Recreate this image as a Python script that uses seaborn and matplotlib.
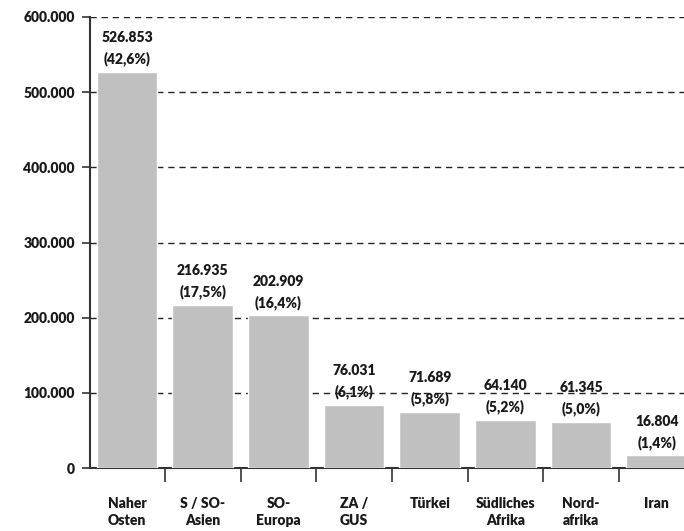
import matplotlib
matplotlib.use("Agg")
import matplotlib.pyplot as plt
import seaborn as sns
import pandas as pd

categories = ["Naher\nOsten", "S / SO-\nAsien", "SO-\nEuropa", "ZA /\nGUS", "Türkei",
              "Südliches\nAfrika", "Nord-\nafrika", "Iran"]
# bar heights as drawn in the picture
bar_heights = [526853, 216935, 202909, 84000, 74500, 64140, 61345, 16804]
# printed labels
label_values = ["526.853", "216.935", "202.909", "76.031", "71.689", "64.140", "61.345", "16.804"]
label_shares = ["(42,6%)", "(17,5%)", "(16,4%)", "(6,1%)", "(5,8%)", "(5,2%)", "(5,0%)", "(1,4%)"]
y_ticks = [0, 100000, 200000, 300000, 400000, 500000, 600000]
y_tick_labels = ["0", "100.000", "200.000", "300.000", "400.000", "500.000", "600.000"]

sns.set_style("white")
plt.rcParams["font.family"] = ["Lato", "DejaVu Sans"]
W = "heavy"

df = pd.DataFrame({"cat": categories, "val": bar_heights})

fig = plt.figure(figsize=(6.84, 5.31), dpi=100)
ax = fig.add_axes([90 / 684, 63 / 531, 1 - 90 / 684, (468 - 17) / 531])

sns.barplot(data=df, x="cat", y="val", color="#c0c0c0", saturation=1, width=0.8, ax=ax, zorder=3)

ax.set_ylim(0, 600000)
ax.set_xlim(-0.49, 7.36)
ax.set_yticks(y_ticks)
ax.set_yticklabels(y_tick_labels, fontsize=10, fontweight=W, color="#1a1a1a")
for y in y_ticks[1:]:
    ax.axhline(y, color="#222222", lw=1.0, ls=(0, (4.5, 3.5)), zorder=1)

ax.set_xticks(range(len(categories)))
ax.set_xticklabels(categories, fontsize=10, fontweight=W, color="#1a1a1a", linespacing=1.35)
ax.tick_params(axis="x", which="major", length=0, pad=21)
ax.set_xticks([i + 0.5 for i in range(len(categories) - 1)], minor=True)
ax.tick_params(axis="x", which="minor", length=10, width=1.2, color="#333333", direction="out", bottom=True)
ax.tick_params(axis="y", length=6, width=1.2, color="#333333", direction="out", left=True, pad=5)

for i, (h, v, s) in enumerate(zip(bar_heights, label_values, label_shares)):
    ax.annotate(f"{v}\n{s}", (i, h), xytext=(0, 4), textcoords="offset points",
                ha="center", va="bottom", fontsize=10, fontweight=W,
                color="#1a1a1a", linespacing=1.6)

ax.set_xlabel("")
ax.set_ylabel("")
for side in ["top", "right"]:
    ax.spines[side].set_visible(False)
for side in ["left", "bottom"]:
    ax.spines[side].set_color("#333333")
    ax.spines[side].set_linewidth(1.5)

fig.savefig("out.png", dpi=100)
